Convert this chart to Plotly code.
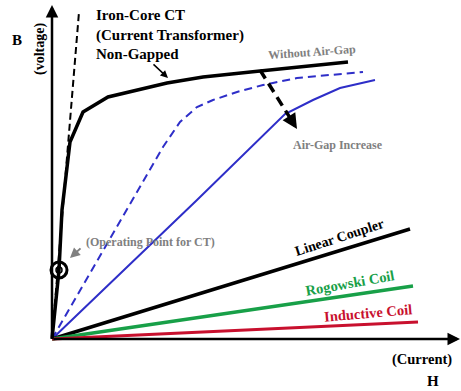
import plotly.graph_objects as go

# ---- data (H = current, B = voltage), in chart units ----
iron_core_h = [0, 7, 10, 18, 31, 56, 115, 151, 208, 296]
iron_core_b = [0, 69, 129, 197, 227, 242, 256, 262, 268, 277]

ideal_h = [0, 27]
ideal_b = [0, 327]

gap_small_h = [0, 111, 128, 145, 161, 185, 211, 245, 311]
gap_small_b = [0, 192, 217, 232, 239, 247, 254, 261, 267]

gap_large_h = [0, 145, 233, 261, 288, 323]
gap_large_b = [0, 139, 225, 239, 251, 259]

linear_h = [0, 358]
linear_b = [0, 110]
rogowski_h = [0, 361]
rogowski_b = [0, 53]
inductive_h = [0, 366]
inductive_b = [0, 17]

operating_point = (7, 69)

SERIF = "Liberation Serif, Times New Roman, serif"
BLUE = "#2e2ec8"
GREEN = "#18a048"
RED = "#c8102e"
GRAY = "#808080"

fig = go.Figure()

def line(x, y, color, width, dash=None):
    fig.add_trace(go.Scatter(x=x, y=y, mode="lines",
                             line=dict(color=color, width=width, dash=dash),
                             hoverinfo="skip", showlegend=False))

line(ideal_h, ideal_b, "black", 2, "7px,4px")
line(gap_small_h, gap_small_b, BLUE, 2, "8px,5px")
line(gap_large_h, gap_large_b, BLUE, 2)
line(linear_h, linear_b, "black", 3.5)
line(rogowski_h, rogowski_b, GREEN, 3.5)
line(inductive_h, inductive_b, RED, 3)
line(iron_core_h, iron_core_b, "black", 3.5)

ann = []

# axes arrows
ann.append(dict(x=0, y=334, ax=0, ay=0, xref="x", yref="y", axref="x", ayref="y",
                showarrow=True, arrowhead=2, arrowsize=1, arrowwidth=2.5,
                arrowcolor="black", text=""))
ann.append(dict(x=408, y=0, ax=0, ay=0, xref="x", yref="y", axref="x", ayref="y",
                showarrow=True, arrowhead=2, arrowsize=1, arrowwidth=2.5,
                arrowcolor="black", text=""))

# dashed "air-gap increase" arrow
fig.add_shape(type="line", x0=208, y0=269, x1=240, y1=218,
              line=dict(color="black", width=3.5, dash="10px,6px"))
ann.append(dict(x=245, y=210, ax=238, ay=221, xref="x", yref="y", axref="x", ayref="y",
                showarrow=True, arrowhead=2, arrowsize=1, arrowwidth=3,
                arrowcolor="black", text=""))

# Non-gapped pointer
ann.append(dict(x=116, y=261, ax=100, ay=276, xref="x", yref="y", axref="x", ayref="y",
                showarrow=True, arrowhead=2, arrowsize=1, arrowwidth=1.5,
                arrowcolor="black", text=""))

# operating point pointer
ann.append(dict(x=18, y=81, ax=30, ay=92, xref="x", yref="y", axref="x", ayref="y",
                showarrow=True, arrowhead=2, arrowsize=1, arrowwidth=2,
                arrowcolor=GRAY, text=""))

# operating point circles
ox, oy = operating_point
fig.add_shape(type="circle", x0=ox - 8, x1=ox + 8, y0=oy - 8, y1=oy + 8,
              line=dict(color="black", width=3))
fig.add_shape(type="circle", x0=ox - 3, x1=ox + 3, y0=oy - 3, y1=oy + 3,
              line=dict(color="black", width=1.5))

def text(x, y, s, size, color="black", angle=0, xanchor="center", align="center"):
    ann.append(dict(x=x, y=y, xref="x", yref="y", text=s, showarrow=False,
                    textangle=angle, xanchor=xanchor, yanchor="middle", align=align,
                    font=dict(family=SERIF, size=size, color=color)))

text(42, 305, "<b>Iron-Core CT<br>(Current Transformer)<br>Non-Gapped</b>", 15,
     xanchor="left", align="left")
text(-35, 299, "<b>B</b>", 15)
text(-12, 290, "<b>(voltage)</b>", 14, angle=-90)
text(381, -42, "<b>H</b>", 15)
text(370, -20, "<b>(Current)</b>", 14.5)
text(260, 287, "<b>Without Air-Gap</b>", 12, GRAY, -4)
text(286, 194, "<b>Air-Gap Increase</b>", 12, GRAY)
text(98, 97, "<b>(Operating Point for CT)</b>", 12, GRAY)
text(287, 102, "<b>Linear Coupler</b>", 14, "black", -18)
text(298, 56, "<b>Rogowski Coil</b>", 14.5, GREEN, -10)
text(316, 26, "<b>Inductive Coil</b>", 14.5, RED, -5)

fig.update_layout(
    width=461, height=391,
    margin=dict(l=0, r=0, t=0, b=0),
    paper_bgcolor="white", plot_bgcolor="white",
    annotations=ann,
    xaxis=dict(range=[-52, 409], visible=False, fixedrange=True),
    yaxis=dict(range=[-52, 339], visible=False, fixedrange=True),
    showlegend=False,
)

fig.write_html("out.html",
               config={"displayModeBar": False},
               post_script="document.body.style.margin='0';document.body.style.overflow='hidden';")
